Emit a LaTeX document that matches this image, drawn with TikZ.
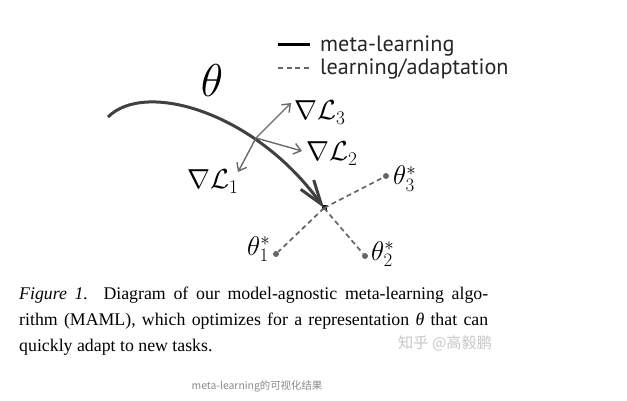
\documentclass[tikz,border=0pt]{standalone}
\usepackage{fix-cm}
\usepackage{fontspec}
\setmainfont{Liberation Serif}
\newfontfamily\legendfont{PT Sans}
\newfontfamily\cjkfont{Noto Sans CJK SC}
\usetikzlibrary{arrows.meta}
\definecolor{metagray}{HTML}{404040}
\definecolor{gradgray}{HTML}{6A6A6A}
\definecolor{adaptgray}{HTML}{666666}
\definecolor{wmgray}{HTML}{C8C8C8}
\definecolor{subgray}{HTML}{8A8A8A}
\begin{document}
\begin{tikzpicture}[x=1pt,y=-1pt,
  meta/.style={line width=3pt, draw=metagray},
  grad/.style={line width=1.4pt, draw=gradgray, -{Straight Barb[length=7pt,width=11pt]}},
  adapt/.style={line width=1.7pt, draw=adaptgray, dash pattern=on 5pt off 3.5pt},
  lbl/.style={inner sep=0pt, anchor=base west, font=\fontsize{27.5}{27.5}\selectfont},
  slbl/.style={inner sep=0pt, anchor=base west, font=\fontsize{27}{27}\selectfont},
  dot/.style={circle, fill=adaptgray, inner sep=0pt, minimum size=6pt},
  cdot/.style={rectangle, fill=black, inner sep=0pt, minimum size=5pt},
  legend/.style={inner sep=0pt, anchor=base west, text=black!85, font=\legendfont\fontsize{22.2}{22.2}\selectfont},
  captext/.style={inner sep=0pt, anchor=base west, font=\fontsize{17.8}{26}\selectfont},
]
\useasboundingbox (0,0) rectangle (627,401);
\fill[white] (0,0) rectangle (627,401);

% legend
\coordinate (m1) at (278,45);
\coordinate (m2) at (310,45);
\coordinate (d1) at (278,68.3);
\coordinate (d2) at (310,68.3);
\draw[line width=3pt, black] (m1) -- (m2);
\draw[adapt] (d1) -- (d2);
\node[legend] (mtext) at (320,51.7) {meta-learning};
\node[legend] (atext) at (320,75) {learning/adaptation};

% points
\node[cdot] (c) at (324,208) {};
\node[dot] (t1) at (276,254) {};
\node[dot] (t2) at (365,256) {};
\node[dot] (t3) at (386,176) {};

% adaptation lines
\draw[adapt] (c.center) -- (t1);
\draw[adapt] (c.center) -- (t2);
\draw[adapt] (c.center) -- (t3);

% meta-learning curve
\coordinate (s) at (108,117);
\draw[meta, -{Straight Barb[length=24pt,width=16pt]}] (s) .. controls (145,80) and (255,112) .. (c.center);
\node[inner sep=0pt, font=\fontsize{46}{46}\selectfont] (theta) at (212,81) {$\theta$};

% gradients
\coordinate (o) at (256,138);
\coordinate (g3) at (291,103);
\coordinate (g1) at (238,172);
\coordinate (g2) at (302,151);
\draw[grad] (o) -- (g3);
\draw[grad] (o) -- (g1);
\draw[grad] (o) -- (g2);
\node[lbl] (L3) at (294,120) {$\nabla\mathcal{L}_3$};
\node[lbl] (L2) at (306,161) {$\nabla\mathcal{L}_2$};
\node[lbl] (L1) at (187,189) {$\nabla\mathcal{L}_1$};

% theta stars
\node[slbl] (th3) at (393,185) {$\theta_3^*$};
\node[slbl] (th2) at (371,260) {$\theta_2^*$};
\node[slbl] (th1) at (247,255) {$\theta_1^*$};

% caption
\node[captext] (cap1) at (19,299.3) {\makebox[469pt][s]{\textit{Figure 1.}\ \ Diagram of our model-agnostic meta-learning algo-}};
\node[captext] (cap2) at (19,325.5) {\makebox[469pt][s]{rithm (MAML), which optimizes for a representation \textit{θ} that can}};
\node[captext] (cap3) at (19,351.7) {quickly adapt to new tasks.};

% watermark and subtitle
\node[inner sep=0pt, anchor=west, text=wmgray, font=\cjkfont\fontsize{15.2}{15.2}\selectfont] (wm) at (398,343) {知乎 @高毅鹏};
\node[inner sep=0pt, text=subgray, font=\cjkfont\fontsize{10.4}{10.4}\selectfont] (sub) at (257,386) {meta-learning的可视化结果};
\end{tikzpicture}
\end{document}
